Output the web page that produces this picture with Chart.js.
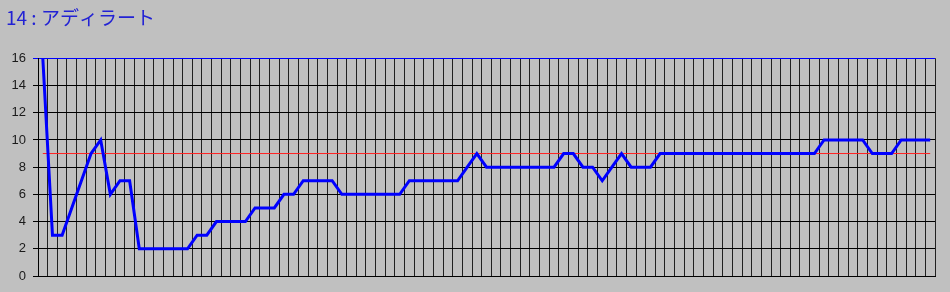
<!DOCTYPE html>
<html>
<head>
<meta charset="utf-8">
<script src="https://cdn.jsdelivr.net/npm/chart.js@4.4.1/dist/chart.umd.min.js"></script>
<style>
  html, body { margin: 0; padding: 0; background: #c0c0c0; }
  canvas { display: block; }
</style>
</head>
<body>
<canvas id="c" width="950" height="292"></canvas>
<script>
const chartTitle = '14 : アディラート';
const categories = [1,2,3,4,5,6,7,8,9,10,11,12,13,14,15,16,17,18,19,20,21,22,23,24,25,26,27,28,29,30,31,32,33,34,35,36,37,38,39,40,41,42,43,44,45,46,47,48,49,50,51,52,53,54,55,56,57,58,59,60,61,62,63,64,65,66,67,68,69,70,71,72,73,74,75,76,77,78,79,80,81,82,83,84,85,86,87,88,89,90,91,92,93];
const rankValues = [16,3,3,5,7,9,10,6,7,7,2,
  2,2,2,2,2,
  3,3,
  4,4,4,4,
  5,5,5,
  6,6,
  7,7,7,7,
  6,6,6,6,6,6,6,
  7,7,7,7,7,7,
  8,9,
  8,8,8,8,8,8,8,8,
  9,9,
  8,8,
  7,8,9,
  8,8,8,
  9,9,9,9,9,9,9,9,9,9,9,9,9,9,9,9,9,
  10,10,10,10,10,
  9,9,9,
  10,10,10,10];
const referenceLevel = 9;
const yTicks = [0,2,4,6,8,10,12,14,16];

const labelsStr = categories.map(String);

new Chart(document.getElementById('c'), {
  type: 'line',
  data: {
    labels: labelsStr,
    datasets: [
      {
        data: rankValues,
        borderColor: '#0000ff',
        borderWidth: 3,
        pointRadius: 0,
        tension: 0,
        fill: false,
        order: 0
      },
      {
        data: [
          { x: labelsStr[0], y: referenceLevel },
          { x: labelsStr[labelsStr.length - 1], y: referenceLevel }
        ],
        borderColor: '#ff2020',
        borderWidth: 1,
        pointRadius: 0,
        tension: 0,
        fill: false,
        order: 1
      }
    ]
  },
  options: {
    responsive: false,
    animation: false,
    devicePixelRatio: 1,
    layout: { padding: { left: 6, right: 15, top: 0, bottom: 16 } },
    plugins: {
      legend: { display: false },
      tooltip: { enabled: false },
      title: {
        display: true,
        text: chartTitle,
        align: 'start',
        color: '#2222d4',
        font: { family: "'Noto Sans CJK JP', sans-serif", size: 19, weight: 'normal' },
        padding: { top: 6, bottom: 29.5 }
      }
    },
    scales: {
      x: {
        type: 'category',
        offset: true,
        grid: { offset: true, color: '#202020', lineWidth: 1, drawTicks: false },
        ticks: { display: false },
        border: { color: '#000000' }
      },
      y: {
        min: yTicks[0],
        max: yTicks[yTicks.length - 1],
        afterBuildTicks: (s) => { s.ticks = yTicks.map(v => ({ value: v })); },
        afterFit: (s) => { s.width = 32; },
        ticks: {
          color: '#1a1a1a',
          padding: 7,
          font: { family: "'Liberation Sans', Arial, sans-serif", size: 13 }
        },
        grid: {
          color: (ctx) => (ctx.tick && ctx.tick.value === 16) ? '#0000ff' : '#000000',
          lineWidth: 1,
          tickLength: 5
        },
        border: { color: '#000000' }
      }
    }
  }
});
</script>
</body>
</html>
